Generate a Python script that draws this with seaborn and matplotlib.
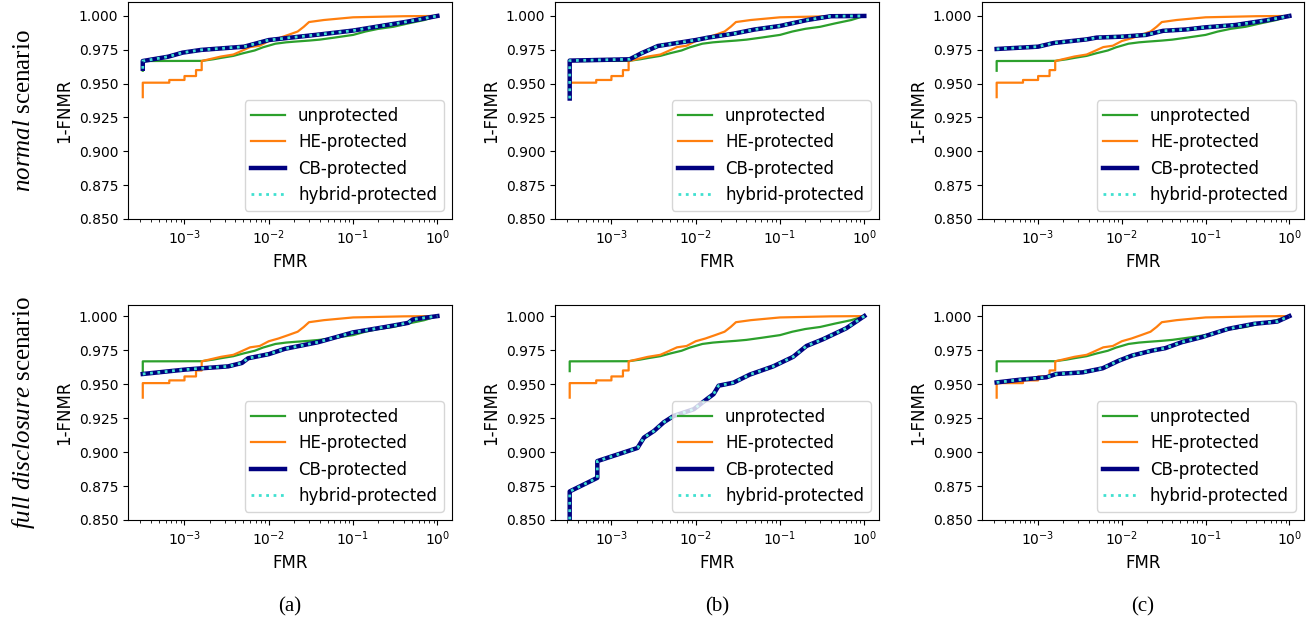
import matplotlib
matplotlib.use("Agg")
import matplotlib.pyplot as plt
import seaborn as sns

plt.rcParams['font.family'] = 'DejaVu Sans'
plt.rcParams['mathtext.fontset'] = 'custom'
plt.rcParams['mathtext.rm'] = 'Liberation Serif'
plt.rcParams['mathtext.it'] = 'Liberation Serif:italic'

# unprotected and HE-protected curves (same in every panel)
fmr_unprot = [0.00032, 0.00032, 0.0016, 0.0022, 0.0027, 0.0038, 0.005, 0.0068, 0.0085, 0.012, 0.016,
              0.02, 0.03, 0.04, 0.06, 0.1, 0.14, 0.2, 0.3, 0.45, 0.7, 1.0]
tpr_unprot = [0.9595, 0.9667, 0.9668, 0.968, 0.969, 0.9705, 0.9725, 0.9745, 0.9768, 0.9795, 0.9805,
              0.981, 0.9818, 0.9825, 0.984, 0.986, 0.9885, 0.9905, 0.992, 0.9945, 0.997, 1.0]

fmr_he = [0.00032, 0.00032, 0.00066, 0.00066, 0.001, 0.001, 0.00137, 0.00137, 0.0016, 0.0016,
          0.0027, 0.0038, 0.0045, 0.006, 0.0078, 0.01, 0.013, 0.017, 0.022, 0.026, 0.03, 0.045,
          0.1, 0.4, 1.0]
tpr_he = [0.940, 0.9507, 0.9507, 0.9527, 0.9527, 0.9556, 0.9556, 0.960, 0.960, 0.9667,
          0.970, 0.9715, 0.9735, 0.977, 0.978, 0.9815, 0.9835, 0.986, 0.9885, 0.992, 0.9955, 0.997,
          0.999, 0.9998, 1.0]

# CB-protected (= hybrid-protected), normal scenario
fmr_cb_a = [0.00032, 0.00032, 0.00064, 0.00095, 0.00157, 0.0051, 0.01, 0.041, 0.1, 0.44, 1.0]
tpr_cb_a = [0.961, 0.9667, 0.9699, 0.9729, 0.9749, 0.9773, 0.9822, 0.9864, 0.9892, 0.9958, 1.0]

fmr_cb_b = [0.00032, 0.00032, 0.00165, 0.00226, 0.00356, 0.01, 0.014, 0.0287, 0.05, 0.1, 0.21, 0.4, 1.0]
tpr_cb_b = [0.939, 0.967, 0.968, 0.9724, 0.9778, 0.9822, 0.984, 0.987, 0.990, 0.9926, 0.997, 0.9998, 1.0]

fmr_cb_c = [0.00032, 0.001, 0.00153, 0.0038, 0.005, 0.01, 0.0195, 0.031, 0.058, 0.1, 0.226, 0.56, 1.0]
tpr_cb_c = [0.9756, 0.9773, 0.980, 0.9827, 0.984, 0.9847, 0.986, 0.989, 0.990, 0.9916, 0.9933, 0.997, 1.0]

# CB-protected (= hybrid-protected), full disclosure scenario
fmr_cb_d = [0.00032, 0.001, 0.0016, 0.0033, 0.0048, 0.0057, 0.01, 0.0155, 0.0385, 0.1, 0.237, 0.45, 0.51, 1.0]
tpr_cb_d = [0.9574, 0.9606, 0.9616, 0.963, 0.9655, 0.969, 0.972, 0.9759, 0.9808, 0.988, 0.9919, 0.995, 0.9975, 1.0]

fmr_cb_e = [0.00032, 0.00032, 0.00068, 0.00068, 0.00204, 0.00243, 0.0032, 0.0042, 0.0055, 0.0095,
            0.0136, 0.0163, 0.0187, 0.028, 0.044, 0.083, 0.143, 0.206, 0.325, 0.61, 1.0]
tpr_cb_e = [0.845, 0.871, 0.881, 0.8933, 0.903, 0.9106, 0.9155, 0.922, 0.9266, 0.9315,
            0.939, 0.9426, 0.9488, 0.951, 0.957, 0.963, 0.970, 0.978, 0.983, 0.991, 1.0]

fmr_cb_f = [0.00032, 0.00061, 0.00126, 0.00165, 0.0034, 0.0059, 0.0092, 0.0133, 0.023, 0.033,
            0.052, 0.09, 0.186, 0.38, 0.72, 1.0]
tpr_cb_f = [0.9512, 0.9532, 0.955, 0.9574, 0.9586, 0.9616, 0.9672, 0.971, 0.9746, 0.9764,
            0.9808, 0.9845, 0.9906, 0.9943, 0.996, 1.0]

y_ticks = [0.85, 0.875, 0.9, 0.925, 0.95, 0.975, 1.0]
panel_names = ['(a)', '(b)', '(c)']
row_names = [r'$\mathit{normal}$ scenario', r'$\mathit{full\ disclosure}$ scenario']

cb_data = [[(fmr_cb_a, tpr_cb_a), (fmr_cb_b, tpr_cb_b), (fmr_cb_c, tpr_cb_c)],
           [(fmr_cb_d, tpr_cb_d), (fmr_cb_e, tpr_cb_e), (fmr_cb_f, tpr_cb_f)]]

fig = plt.figure(figsize=(13.12, 6.28), dpi=100)
lefts = [0.0976, 0.423, 0.7485]
widths = [0.247, 0.247, 0.2454]
bottoms = [0.6513, 0.172]
heights = [0.3455, 0.342]
ytops = [1.0103, 1.008]


def draw_panel(ax, fmr_cb, tpr_cb, ytop):
    sns.lineplot(x=fmr_unprot, y=tpr_unprot, ax=ax, color='#2ca02c', lw=1.6,
                 label='unprotected', estimator=None, sort=False)
    sns.lineplot(x=fmr_he, y=tpr_he, ax=ax, color='#ff7f0e', lw=1.6,
                 label='HE-protected', estimator=None, sort=False)
    sns.lineplot(x=fmr_cb, y=tpr_cb, ax=ax, color='#000080', lw=3.2,
                 label='CB-protected', estimator=None, sort=False)
    sns.lineplot(x=fmr_cb, y=tpr_cb, ax=ax, color='#40e0d0', lw=2, ls=':',
                 label='hybrid-protected', estimator=None, sort=False)
    ax.set_xscale('log')
    ax.set_yticks(y_ticks)
    ax.set_ylim(0.85, ytop)
    ax.set_xlabel('FMR', fontsize=12)
    ax.set_ylabel('1-FNMR', fontsize=12)
    ax.tick_params(labelsize=10)
    ax.legend(loc='lower right', fontsize=12)


for r in range(2):
    for c in range(3):
        ax = fig.add_axes([lefts[c], bottoms[r], widths[c], heights[r]])
        fmr_cb, tpr_cb = cb_data[r][c]
        draw_panel(ax, fmr_cb, tpr_cb, ytops[r])

for r in range(2):
    fig.text(0.018, bottoms[r] + heights[r] / 2, row_names[r], rotation=90,
             ha='center', va='center', fontsize=18, family='Liberation Serif')

for c, name in enumerate(panel_names):
    fig.text(lefts[c] + widths[c] / 2, 1 - 607 / 628, name, ha='center', va='center',
             fontsize=15, family='Liberation Serif')

fig.savefig('out.png', dpi=100)
